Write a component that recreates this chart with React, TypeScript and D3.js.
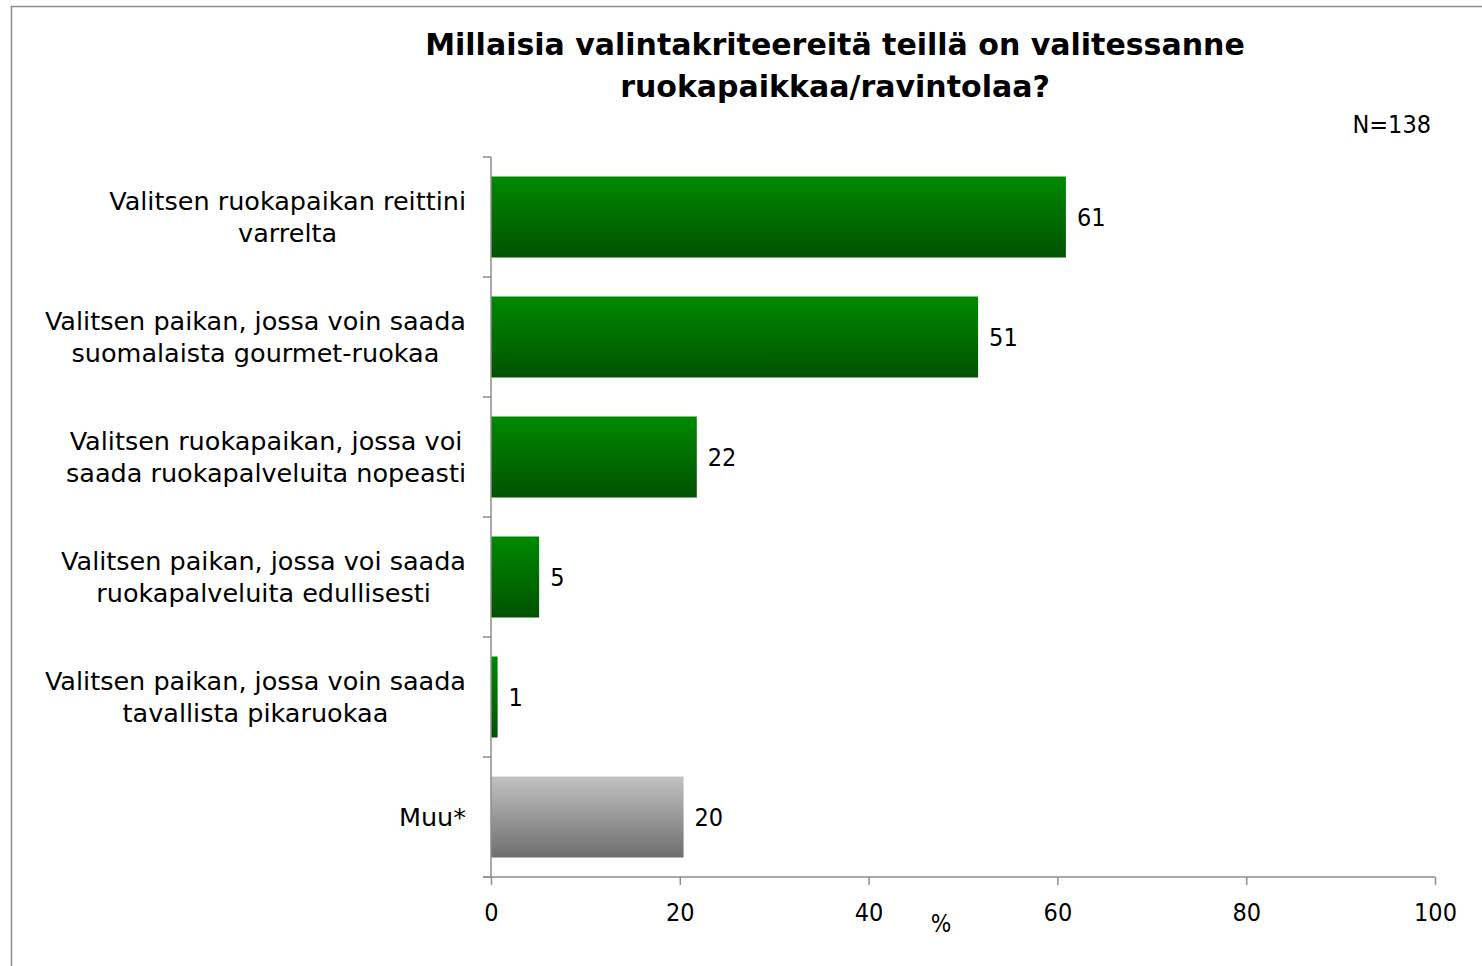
import { useEffect, useRef } from 'react'
import * as d3 from 'd3'

const categories = [
  ['Valitsen ruokapaikan reittini', 'varrelta'],
  ['Valitsen paikan, jossa voin saada', 'suomalaista gourmet-ruokaa'],
  ['Valitsen ruokapaikan, jossa voi', 'saada ruokapalveluita nopeasti'],
  ['Valitsen paikan, jossa voi saada', 'ruokapalveluita edullisesti'],
  ['Valitsen paikan, jossa voin saada', 'tavallista pikaruokaa'],
  ['Muu*'],
]
const values = [60.9, 51.6, 21.8, 5.1, 0.7, 20.4]
const valueLabels = ['61', '51', '22', '5', '1', '20']
const isOther = [false, false, false, false, false, true]
const xTicks = [0, 20, 40, 60, 80, 100]

const titleLines = ['Millaisia valintakriteereitä teillä on valitessanne', 'ruokapaikkaa/ravintolaa?']

const W = 1482
const H = 966
const FONT = '"DejaVu Sans Condensed", "DejaVu Sans", sans-serif'
const WIDE = '"DejaVu Sans", sans-serif'

export default function App() {
  const svgRef = useRef<SVGSVGElement>(null)

  useEffect(() => {
    if (!svgRef.current) return
    const svg = d3.select(svgRef.current)
    svg.selectAll('*').remove()

    const left = 491
    const right = 1435
    const top = 157
    const bottom = 877

    const x = d3.scaleLinear().domain([0, 100]).range([left, right])
    const y = d3.scaleBand<number>()
      .domain(d3.range(categories.length))
      .range([top, bottom])
      .paddingInner(0.325)
      .paddingOuter(0.1625)

    const defs = svg.append('defs')
    const green = defs.append('linearGradient').attr('id', 'g-green')
      .attr('x1', 0).attr('y1', 0).attr('x2', 0).attr('y2', 1)
    green.append('stop').attr('offset', 0).attr('stop-color', '#008a00')
    green.append('stop').attr('offset', 1).attr('stop-color', '#005200')
    const grey = defs.append('linearGradient').attr('id', 'g-grey')
      .attr('x1', 0).attr('y1', 0).attr('x2', 0).attr('y2', 1)
    grey.append('stop').attr('offset', 0).attr('stop-color', '#c2c2c2')
    grey.append('stop').attr('offset', 1).attr('stop-color', '#6e6e6e')

    // frame
    svg.append('rect')
      .attr('x', 11.5).attr('y', 6.5).attr('width', W).attr('height', H)
      .attr('fill', 'none').attr('stroke', '#8c8c8c').attr('stroke-width', 1.5)

    // title
    svg.append('text')
      .attr('x', 835).attr('y', 55)
      .attr('text-anchor', 'middle')
      .attr('font-family', WIDE).attr('font-weight', 'bold').attr('font-size', 30)
      .selectAll('tspan')
      .data(titleLines)
      .enter()
      .append('tspan')
      .attr('x', 835)
      .attr('dy', (d, i) => (i === 0 ? 0 : 42))
      .text(d => d)

    svg.append('text')
      .attr('x', 1431).attr('y', 133)
      .attr('text-anchor', 'end')
      .attr('font-family', FONT).attr('font-size', 25)
      .text('N=138')

    // bars
    svg.selectAll('rect.bar')
      .data(values)
      .enter()
      .append('rect')
      .attr('class', 'bar')
      .attr('x', x(0))
      .attr('y', (d, i) => y(i)!)
      .attr('width', d => x(d) - x(0))
      .attr('height', y.bandwidth())
      .attr('fill', (d, i) => (isOther[i] ? 'url(#g-grey)' : 'url(#g-green)'))

    svg.selectAll('text.val')
      .data(values)
      .enter()
      .append('text')
      .attr('class', 'val')
      .attr('x', d => x(d) + 11)
      .attr('y', (d, i) => y(i)! + y.bandwidth() / 2 + 9)
      .attr('font-family', FONT).attr('font-size', 25)
      .text((d, i) => valueLabels[i])

    // y axis
    const axisColor = '#8c8c8c'
    svg.append('line')
      .attr('x1', left).attr('x2', left).attr('y1', top).attr('y2', bottom)
      .attr('stroke', axisColor).attr('stroke-width', 1.5)
    const step = (bottom - top) / categories.length
    svg.selectAll('line.ytick')
      .data(d3.range(categories.length + 1))
      .enter()
      .append('line')
      .attr('x1', left - 8).attr('x2', left)
      .attr('y1', d => top + d * step).attr('y2', d => top + d * step)
      .attr('stroke', axisColor).attr('stroke-width', 1.5)

    // category labels: lines centred on each other, block right-aligned at 466
    const labelRight = 466
    categories.forEach((lines, i) => {
      const t = svg.append('text')
        .attr('text-anchor', 'middle')
        .attr('font-family', WIDE).attr('font-size', 25.5)
        .attr('y', top + (i + 0.5) * step + (lines.length === 1 ? 9 : -7))
      const spans = t.selectAll('tspan')
        .data(lines)
        .enter()
        .append('tspan')
        .attr('dy', (d, j) => (j === 0 ? 0 : 32))
        .text(d => d)
      let maxW = 0
      spans.each(function () {
        maxW = Math.max(maxW, (this as SVGTSpanElement).getComputedTextLength())
      })
      spans.attr('x', labelRight - maxW / 2)
    })

    // x axis
    const xAxis = svg.append('g')
      .attr('transform', `translate(0,${bottom})`)
      .call(d3.axisBottom(x).tickValues(xTicks).tickSize(8).tickSizeOuter(0).tickPadding(18))
    xAxis.select('.domain').attr('stroke', axisColor).attr('stroke-width', 1.5)
      .attr('d', `M${left - 8},0H${right}`)
    xAxis.selectAll('.tick line').attr('stroke', axisColor).attr('stroke-width', 1.5)
    xAxis.selectAll('.tick text')
      .attr('font-family', FONT).attr('font-size', 25).attr('fill', '#000')

    svg.append('text')
      .attr('x', 941).attr('y', 932)
      .attr('text-anchor', 'middle')
      .attr('font-family', FONT).attr('font-size', 24)
      .text('%')
  }, [])

  return <svg ref={svgRef} width={W} height={H} style={{ display: 'block', position: 'absolute', left: 0, top: 0 }} />
}
